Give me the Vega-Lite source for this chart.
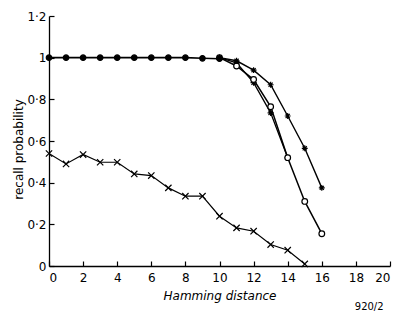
{
  "$schema": "https://vega.github.io/schema/vega-lite/v6.json",
  "autosize": "none",
  "width": 341,
  "height": 250,
  "padding": {"left": 49, "top": 16, "right": 6, "bottom": 52},
  "background": "white",
  "title": {"text": "920/2", "orient": "bottom", "anchor": "end", "fontSize": 10, "font": "DejaVu Sans", "fontWeight": "normal", "color": "black", "offset": 1, "dx": -7},
  "config": {
    "view": {"stroke": null},
    "axis": {"labelFont": "DejaVu Sans", "titleFont": "DejaVu Sans", "labelFontSize": 12, "titleFontSize": 12, "titleFontWeight": "normal", "labelColor": "black", "titleColor": "black", "domainColor": "black", "tickColor": "black", "domainWidth": 1.3, "tickWidth": 1.2, "grid": false}
  },
  "data": {"values": [
    {"d": 10, "p": 1.0, "s": "thick"},
    {"d": 11, "p": 0.975, "s": "thick"},
    {"d": 12, "p": 0.88, "s": "thick"},
    {"d": 13, "p": 0.735, "s": "thick"},
    {"d": 14, "p": 0.52, "s": "thick"},
    {"d": 10, "p": 1.0, "s": "open"},
    {"d": 11, "p": 0.96, "s": "open"},
    {"d": 12, "p": 0.895, "s": "open"},
    {"d": 13, "p": 0.765, "s": "open"},
    {"d": 14, "p": 0.52, "s": "open"},
    {"d": 15, "p": 0.31, "s": "open"},
    {"d": 16, "p": 0.155, "s": "open"},
    {"d": 10, "p": 1.0, "s": "star"},
    {"d": 11, "p": 0.985, "s": "star"},
    {"d": 12, "p": 0.94, "s": "star"},
    {"d": 13, "p": 0.87, "s": "star"},
    {"d": 14, "p": 0.72, "s": "star"},
    {"d": 15, "p": 0.565, "s": "star"},
    {"d": 16, "p": 0.375, "s": "star"},
    {"d": 0, "p": 0.54, "s": "cross"},
    {"d": 1, "p": 0.49, "s": "cross"},
    {"d": 2, "p": 0.535, "s": "cross"},
    {"d": 3, "p": 0.498, "s": "cross"},
    {"d": 4, "p": 0.498, "s": "cross"},
    {"d": 5, "p": 0.442, "s": "cross"},
    {"d": 6, "p": 0.434, "s": "cross"},
    {"d": 7, "p": 0.375, "s": "cross"},
    {"d": 8, "p": 0.335, "s": "cross"},
    {"d": 9, "p": 0.335, "s": "cross"},
    {"d": 10, "p": 0.239, "s": "cross"},
    {"d": 11, "p": 0.183, "s": "cross"},
    {"d": 12, "p": 0.167, "s": "cross"},
    {"d": 13, "p": 0.103, "s": "cross"},
    {"d": 14, "p": 0.076, "s": "cross"},
    {"d": 15, "p": 0.01, "s": "cross"},
    {"d": 0, "p": 1.0, "s": "filled"},
    {"d": 1, "p": 1.0, "s": "filled"},
    {"d": 2, "p": 1.0, "s": "filled"},
    {"d": 3, "p": 1.0, "s": "filled"},
    {"d": 4, "p": 1.0, "s": "filled"},
    {"d": 5, "p": 1.0, "s": "filled"},
    {"d": 6, "p": 1.0, "s": "filled"},
    {"d": 7, "p": 1.0, "s": "filled"},
    {"d": 8, "p": 1.0, "s": "filled"},
    {"d": 9, "p": 0.997, "s": "filled"},
    {"d": 10, "p": 0.995, "s": "filled"}
  ]},
  "encoding": {
    "x": {"field": "d", "type": "quantitative", "scale": {"domain": [0, 20], "nice": false},
      "axis": {"title": "Hamming distance", "titleFontStyle": "italic", "values": [0,2,4,6,8,10,12,14,16,18,20], "tickSize": -5, "labelPadding": 11, "titlePadding": 7}},
    "y": {"field": "p", "type": "quantitative", "scale": {"domain": [0, 1.2], "nice": false},
      "axis": {"title": "recall probability", "values": [0,0.2,0.4,0.6,0.8,1,1.2], "format": "~g", "labelExpr": "replace(datum.label, '.', '·')", "tickSize": -5, "labelPadding": 8, "titlePadding": 1, "titleY": 133}}
  },
  "layer": [
    {"mark": {"type": "line", "color": "black"},
      "encoding": {"detail": {"field": "s"},
        "strokeWidth": {"field": "s", "type": "nominal", "scale": {"domain": ["filled","open","star","thick","cross"], "range": [1.6, 1.2, 1.1, 1.8, 1.1]}, "legend": null}}},
    {"mark": {"type": "point", "stroke": "black", "strokeWidth": 1.2, "opacity": 1},
      "encoding": {
        "shape": {"field": "s", "type": "nominal", "scale": {"domain": ["filled","open","star","thick","cross"], "range": ["circle","circle","M-1,0L1,0M0,-1L0,1M-0.7,-0.7L0.7,0.7M-0.7,0.7L0.7,-0.7","M-1,0L1,0M0,-1L0,1M-0.7,-0.7L0.7,0.7M-0.7,0.7L0.7,-0.7","M-1,-1L1,1M-1,1L1,-1"]}, "legend": null},
        "fill": {"field": "s", "type": "nominal", "scale": {"domain": ["filled","open","star","thick","cross"], "range": ["black","white","transparent","transparent","transparent"]}, "legend": null},
        "size": {"field": "s", "type": "nominal", "scale": {"domain": ["filled","open","star","thick","cross"], "range": [30, 40, 45, 30, 25]}, "legend": null}
      }}
  ]
}
